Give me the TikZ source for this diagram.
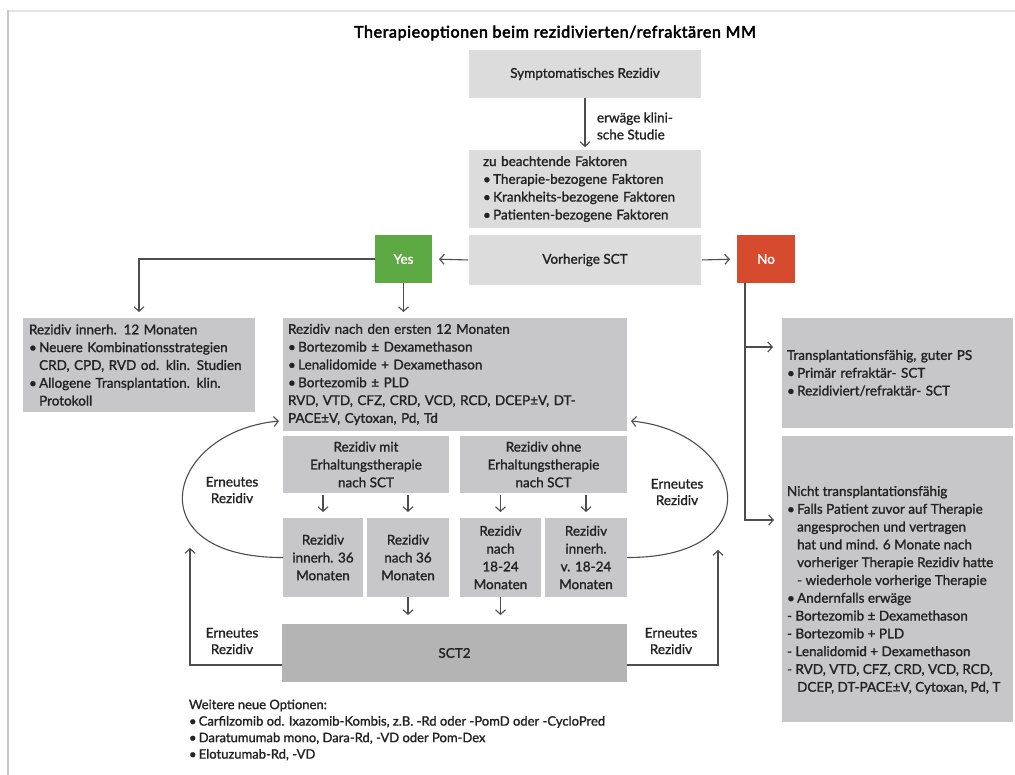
\documentclass[tikz,border=0pt]{standalone}
\usepackage{fontspec}
\setmainfont{Lato}
\newfontfamily\bodyf{Lato}[FakeBold=1.3]
\newfontfamily\titlef{Lato}[FakeBold=3, LetterSpace=4]
\usetikzlibrary{arrows.meta}
\definecolor{lightg}{HTML}{DCDCDD}
\definecolor{darkg}{HTML}{C7C7C9}
\definecolor{sctg}{HTML}{B4B4B5}
\definecolor{yesg}{HTML}{5DAA45}
\definecolor{nor}{HTML}{D64A2E}
\definecolor{linec}{HTML}{4D4D4D}
\definecolor{txtc}{HTML}{222222}
\definecolor{frl}{HTML}{C9C9C9}
\definecolor{frt}{HTML}{E3E3E3}
\newcommand{\mybu}{\makebox[0.75em][l]{•}}
\newcommand{\myci}{\hspace*{0.75em}}
\tikzset{
  txt/.style={font=\bodyf\fontsize{13.5}{17.8}\selectfont, text=txtc, inner sep=0pt, outer sep=0pt},
  lbl/.style={txt, align=center, font=\bodyf\fontsize{13.5}{16.5}\selectfont},
  lbox/.style={txt, fill=lightg},
  dbox/.style={txt, fill=darkg},
  arr/.style={draw=linec, line width=1.1pt, -{Straight Barb[length=4.5pt,width=10pt]}},
}
\begin{document}
\begin{tikzpicture}[x=1pt,y=-1pt]
\useasboundingbox (0,0) rectangle (1015,775);
\fill[white] (0,0) rectangle (1015,775);
\draw[frt, line width=2pt] (8,11) -- (1015,11);
\draw[frl, line width=2pt] (8,10) -- (8,775);

% title
\node[txt, font=\titlef\fontsize{16}{18}\selectfont, text=black] (title) at (555,33) {Therapieoptionen beim rezidivierten/refraktären MM};

% top column
\node[lbox, align=center, minimum width=232pt, minimum height=48pt] (sym) at (585,74) {Symptomatisches Rezidiv};
\node[lbox, align=left, minimum width=232pt, minimum height=78pt, text width=204pt, inner xsep=14pt] (fak) at (585,189)
  {zu beachtende Faktoren\\ \mybu Therapie-bezogene Faktoren\\ \mybu Krankheits-bezogene Faktoren\\ \mybu Patienten-bezogene Faktoren};
\node[lbox, align=center, minimum width=232pt, minimum height=50pt] (vor) at (585,260) {Vorherige SCT};
\node[txt, fill=yesg, text=white, minimum width=57pt, minimum height=48pt] (yes) at (403.5,259) {Yes};
\node[txt, fill=nor, text=white, minimum width=58pt, minimum height=48pt] (no) at (766,259) {No};
\node[txt, align=left, font=\bodyf\fontsize{13.5}{17}\selectfont, anchor=west] (studie) at (597,126) {erwäge klini-\\sche Studie};

\draw[arr, shorten >=3pt] (sym.south) -- (fak.north);
\draw[arr, shorten >=7pt, shorten <=1pt] (vor.west) -- (yes.east);
\draw[arr, shorten >=7pt, shorten <=1pt] (vor.east) -- (no.east -| no.west);

% second row
\node[dbox, align=left, minimum width=232pt, minimum height=94pt, text width=220pt, inner xsep=6pt] (lft) at (139,365)
  {Rezidiv innerh. 12 Monaten\\ \mybu Neuere Kombinationsstrategien\\ \myci CRD, CPD, RVD od. klin. Studien\\ \mybu Allogene Transplantation. klin.\\ \myci Protokoll};
\node[dbox, align=left, minimum width=344pt, minimum height=113pt, text width=334pt, inner xsep=5pt] (big) at (455,374.5)
  {Rezidiv nach den ersten 12 Monaten\\ \mybu Bortezomib ± Dexamethason\\ \mybu Lenalidomide + Dexamethason\\ \mybu Bortezomib ± PLD\\ RVD, VTD, CFZ, CRD, VCD, RCD, DCEP±V, DT-\\ PACE±V, Cytoxan, Pd, Td};
\node[dbox, align=left, minimum width=231pt, minimum height=110pt, text width=221pt, inner xsep=5pt] (trans) at (897.5,373)
  {Transplantationsfähig, guter PS\\ \mybu Primär refraktär- SCT\\ \mybu Rezidiviert/refraktär- SCT};
\node[dbox, minimum width=231pt, minimum height=286pt] (nicht) at (897.5,579) {};
\node[txt, align=left, anchor=west] (nichtt) at (787,590)
  {Nicht transplantationsfähig\\ \mybu Falls Patient zuvor auf Therapie\\ \myci angesprochen und vertragen\\ \myci hat und mind. 6 Monate nach\\ \myci vorheriger Therapie Rezidiv hatte\\ \myci - wiederhole vorherige Therapie\\ \mybu Andernfalls erwäge\\ - Bortezomib ± Dexamethason\\ - Bortezomib + PLD\\ - Lenalidomid + Dexamethason\\ - RVD, VTD, CFZ, CRD, VCD, RCD,\\ \myci DCEP, DT-PACE±V, Cytoxan, Pd, T};

\draw[arr, shorten >=6pt] (yes.west) -| (lft.north);
\draw[arr, shorten >=6pt] (yes.south) -- (yes.south |- big.north);
\coordinate (nb) at (745,283);
\coordinate (tin) at (782,347);
\coordinate (nin) at (782,520);
\draw[arr, shorten >=9pt] (nb) |- (tin);
\draw[arr, shorten >=8pt] (nb) |- (nin);

% SCT branches
\node[dbox, align=center, minimum width=166pt, minimum height=57pt] (mit) at (366,464.5) {Rezidiv mit\\Erhaltungstherapie\\nach SCT};
\node[dbox, align=center, minimum width=167pt, minimum height=57pt] (ohne) at (543.5,464.5) {Rezidiv ohne\\Erhaltungstherapie\\nach SCT};
\node[dbox, align=center, minimum width=80pt, minimum height=79pt] (s1) at (323,557.5) {Rezidiv\\innerh. 36\\Monaten};
\node[dbox, align=center, minimum width=82pt, minimum height=79pt] (s2) at (408,557.5) {Rezidiv\\nach 36\\Monaten};
\node[dbox, align=center, minimum width=81pt, minimum height=79pt] (s3) at (500.5,557.5) {Rezidiv\\nach\\18-24\\Monaten};
\node[dbox, align=center, minimum width=82pt, minimum height=79pt] (s4) at (586,557.5) {Rezidiv\\innerh.\\v. 18-24\\Monaten};
\node[txt, fill=sctg, minimum width=345pt, minimum height=58pt] (sct) at (454.5,653) {SCT2};

\foreach \s/\m in {s1/mit, s2/mit, s3/ohne, s4/ohne}
  \draw[arr, shorten >=6pt, shorten <=2pt] (\m.south -| \s.north) -- (\s.north);
\draw[arr, shorten >=9pt] (s2.south) -- (s2.south |- sct.north);
\draw[arr, shorten >=9pt] (s3.south) -- (s3.south |- sct.north);

% loops
\coordinate (bl) at (279,421);
\coordinate (br) at (631,421);
\draw[arr] (s1.west) .. controls (135,558) and (165,432) .. (bl);
\draw[arr] (s4.east) .. controls (775,558) and (745,432) .. (br);
\node[lbl] (er1) at (232,490) {Erneutes\\Rezidiv};
\node[lbl] (er2) at (677,492) {Erneutes\\Rezidiv};

\coordinate (sl) at (282,665);
\coordinate (sr) at (627,665);
\coordinate (lu) at (190,548);
\coordinate (ru) at (718,550);
\draw[arr] (sl) -| (lu);
\draw[arr] (sr) -| (ru);
\node[lbl] (er3) at (232,641) {Erneutes\\Rezidiv};
\node[lbl] (er4) at (671,641) {Erneutes\\Rezidiv};

% bottom notes
\node[txt, align=left, anchor=west, font=\bodyf\fontsize{13}{16.5}\selectfont] (weit) at (189,730)
  {Weitere neue Optionen:\\ \mybu Carfilzomib od. Ixazomib-Kombis, z.B. -Rd oder -PomD oder -CycloPred\\ \mybu Daratumumab mono, Dara-Rd, -VD oder Pom-Dex\\ \mybu Elotuzumab-Rd, -VD};
\end{tikzpicture}
\end{document}
